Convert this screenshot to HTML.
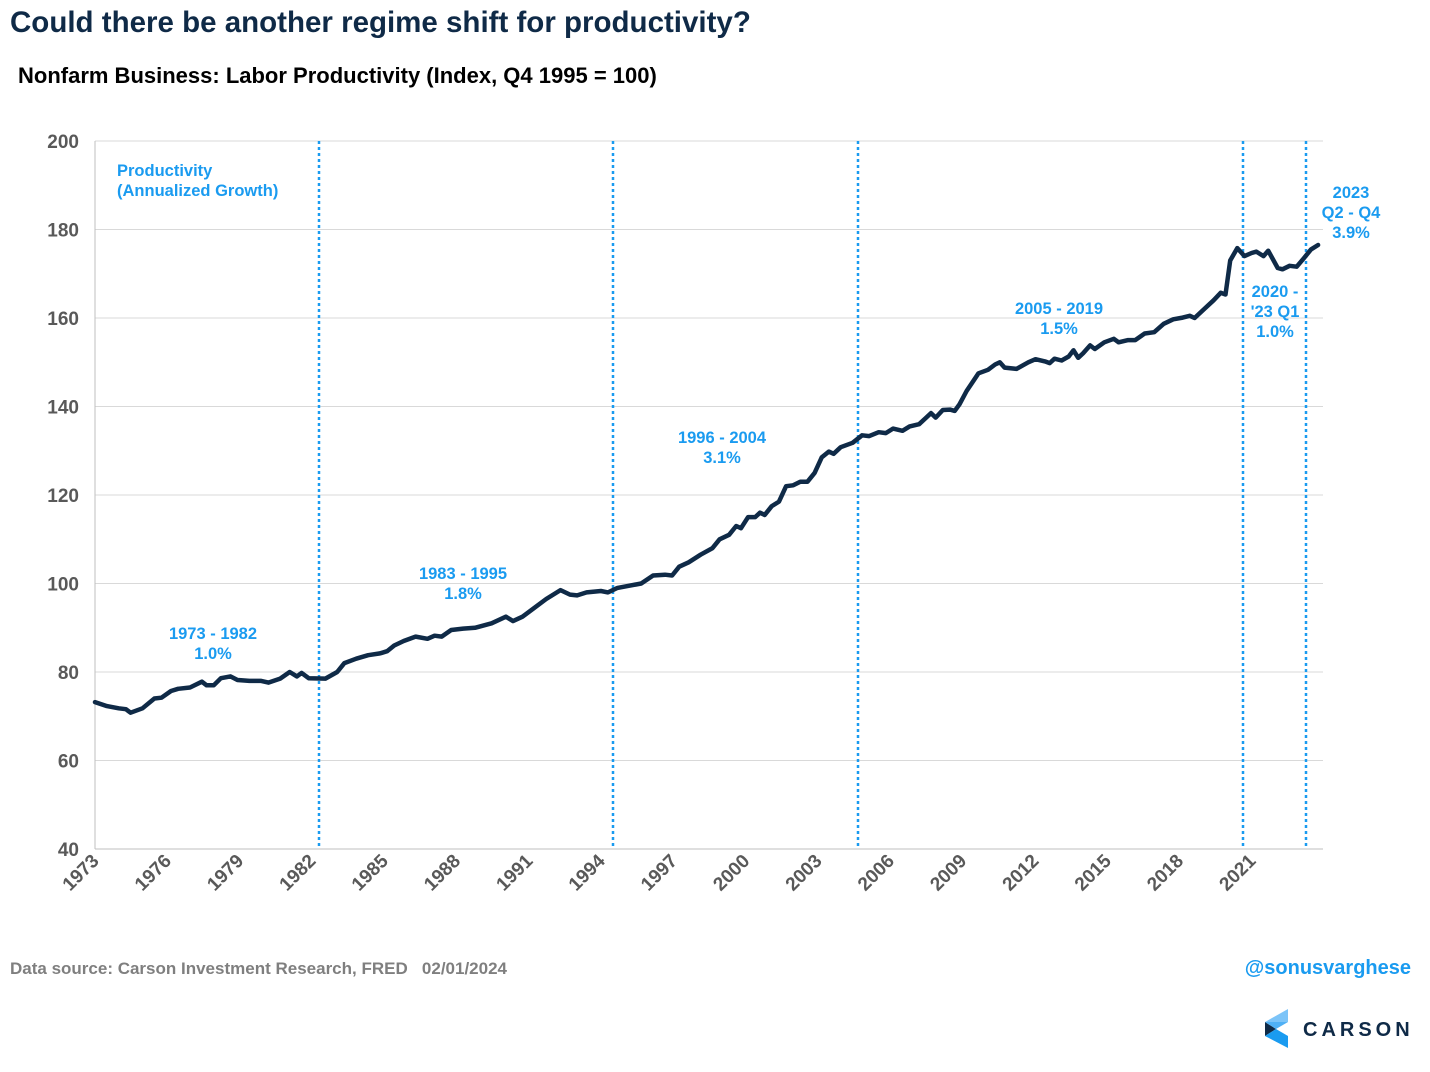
<!DOCTYPE html>
<html><head><meta charset="utf-8"><style>
html,body{margin:0;padding:0;background:#fff;}
body{width:1430px;height:1072px;position:relative;overflow:hidden;font-family:"Liberation Sans",Arial,sans-serif;}
</style></head><body>
<svg width="1430" height="1072" xmlns="http://www.w3.org/2000/svg" style="position:absolute;left:0;top:0" font-family="Liberation Sans, Arial, sans-serif">
<text x="10" y="32" font-size="29.5" font-weight="bold" fill="#0f2a47">Could there be another regime shift for productivity?</text>
<text x="18" y="83" font-size="22" font-weight="bold" fill="#000">Nonfarm Business: Labor Productivity (Index, Q4 1995 = 100)</text>
<g id="grid" stroke="#d9d9d9" stroke-width="1"></g>
<line x1="95" y1="141" x2="95" y2="849" stroke="#bfbfbf"/>
<line x1="95" y1="849" x2="1323" y2="849" stroke="#bfbfbf"/>
<g id="ylab" font-size="19" font-weight="bold" fill="#595959" text-anchor="end"></g>
<g id="xlab" font-size="19" font-weight="bold" fill="#595959" text-anchor="end"></g>
<g stroke="#1a9bf0" stroke-width="2.5" stroke-dasharray="3,3">
<line x1="319" y1="141" x2="319" y2="849"/>
<line x1="613" y1="141" x2="613" y2="849"/>
<line x1="858" y1="141" x2="858" y2="849"/>
<line x1="1243" y1="141" x2="1243" y2="849"/>
<line x1="1306" y1="141" x2="1306" y2="849"/>
</g>
<polyline id="series" fill="none" stroke="#0f2a47" stroke-width="4.5" stroke-linejoin="round" stroke-linecap="round" points=""/>
<g font-size="16.5" font-weight="bold" fill="#1a9bf0" text-anchor="middle">
<text x="117" y="176" text-anchor="start">Productivity</text>
<text x="117" y="196" text-anchor="start">(Annualized Growth)</text>
<text x="213" y="639">1973 - 1982</text><text x="213" y="659">1.0%</text>
<text x="463" y="579">1983 - 1995</text><text x="463" y="599">1.8%</text>
<text x="722" y="443">1996 - 2004</text><text x="722" y="463">3.1%</text>
<text x="1059" y="314">2005 - 2019</text><text x="1059" y="334">1.5%</text>
<text x="1275" y="297">2020 -</text><text x="1275" y="317">'23 Q1</text><text x="1275" y="337">1.0%</text>
<text x="1351" y="198">2023</text><text x="1351" y="218">Q2 - Q4</text><text x="1351" y="238">3.9%</text>
</g>
<text x="10" y="974" font-size="17" font-weight="bold" fill="#7f7f7f" xml:space="preserve">Data source: Carson Investment Research, FRED   02/01/2024</text>
<text x="1411" y="974" font-size="20" font-weight="bold" fill="#1a9bf0" text-anchor="end">@sonusvarghese</text>
<polygon points="1288,1009 1265,1022 1288,1022" fill="#7cc4f8"/>
<polygon points="1265,1022 1276,1029 1265,1036" fill="#0f2a47"/>
<polygon points="1276,1029 1288,1036 1288,1048 1265,1036" fill="#1a9bf0"/>
<polygon points="1265,1022 1276,1029 1288,1022" fill="#4fb0f5"/>
<text x="1303" y="1036" font-size="20" font-weight="bold" fill="#0f2a47" letter-spacing="4">CARSON</text>
</svg>
<script>
var ns="http://www.w3.org/2000/svg";
function Y(v){return 849-(v-40)*4.425;}
function X(t){return 95+(t-1973)*24.1;}
var g=document.getElementById('grid'),yl=document.getElementById('ylab'),xl=document.getElementById('xlab');
for(var v=60;v<=200;v+=20){var l=document.createElementNS(ns,'line');l.setAttribute('x1',95);l.setAttribute('x2',1323);l.setAttribute('y1',Y(v));l.setAttribute('y2',Y(v));g.appendChild(l);}
for(var v=40;v<=200;v+=20){var t=document.createElementNS(ns,'text');t.setAttribute('x',79);t.setAttribute('y',Y(v)+7);t.textContent=v;yl.appendChild(t);}
for(var yr=1973;yr<=2021;yr+=3){var x=X(yr)+5;var t=document.createElementNS(ns,'text');t.setAttribute('transform','translate('+x+',862) rotate(-45)');t.textContent=yr;xl.appendChild(t);}
var d=[[1973,73.2],[1973.5,72.3],[1974,71.8],[1974.3,71.6],[1974.5,70.8],[1975,71.8],[1975.5,74],[1975.8,74.2],[1976.2,75.7],[1976.5,76.2],[1977,76.5],[1977.5,77.8],[1977.7,77],[1978,77],[1978.3,78.6],[1978.7,79],[1979,78.2],[1979.5,78],[1980,78],[1980.3,77.6],[1980.8,78.5],[1981.2,80],[1981.5,79],[1981.7,79.8],[1982,78.6],[1982.7,78.5],[1983.2,80],[1983.5,82],[1984,83],[1984.5,83.8],[1985,84.2],[1985.3,84.7],[1985.6,86],[1986,87],[1986.5,88],[1987,87.5],[1987.3,88.2],[1987.6,88],[1988,89.5],[1988.5,89.8],[1989,90],[1989.7,91],[1990.3,92.5],[1990.6,91.5],[1991,92.5],[1991.5,94.5],[1992,96.5],[1992.6,98.5],[1993,97.5],[1993.3,97.3],[1993.7,98],[1994.3,98.3],[1994.6,98],[1995,99],[1995.5,99.5],[1996,100],[1996.5,101.8],[1997,102],[1997.3,101.8],[1997.6,103.8],[1998,104.8],[1998.5,106.5],[1999,108],[1999.3,110],[1999.7,111],[2000,113],[2000.2,112.5],[2000.5,115],[2000.8,115],[2001,116],[2001.2,115.5],[2001.5,117.5],[2001.8,118.5],[2002.1,122],[2002.4,122.2],[2002.7,123],[2003,123],[2003.3,125],[2003.6,128.5],[2003.9,129.8],[2004.1,129.3],[2004.4,130.8],[2004.9,131.8],[2005.3,133.5],[2005.6,133.3],[2006,134.2],[2006.3,134],[2006.6,135],[2007,134.5],[2007.3,135.5],[2007.7,136],[2008,137.5],[2008.2,138.5],[2008.4,137.5],[2008.7,139.2],[2009,139.3],[2009.2,139],[2009.4,140.5],[2009.7,143.5],[2010.2,147.5],[2010.6,148.3],[2010.9,149.5],[2011.1,150],[2011.3,148.8],[2011.8,148.5],[2012.3,150],[2012.6,150.7],[2013,150.2],[2013.2,149.8],[2013.4,150.8],[2013.7,150.4],[2014,151.3],[2014.2,152.7],[2014.4,151],[2014.6,152],[2014.9,153.8],[2015.1,153],[2015.5,154.5],[2015.9,155.3],[2016.1,154.5],[2016.5,155],[2016.8,155],[2017.2,156.5],[2017.6,156.8],[2018,158.7],[2018.4,159.7],[2018.8,160.1],[2019.1,160.5],[2019.3,160],[2019.7,162],[2020.1,164],[2020.4,165.7],[2020.6,165.3],[2020.8,173],[2021.1,175.8],[2021.4,174],[2021.7,174.7],[2021.9,175],[2022.2,174],[2022.4,175.2],[2022.8,171.3],[2023,171],[2023.3,171.8],[2023.6,171.6],[2023.9,173.5],[2024.2,175.5],[2024.5,176.5]];
var pts=d.map(function(p){var t=1973+(p[0]-1973)*(50.75/51.5);return X(t).toFixed(1)+','+Y(p[1]).toFixed(1);}).join(' ');
document.getElementById('series').setAttribute('points',pts);
</script>
</body></html>
